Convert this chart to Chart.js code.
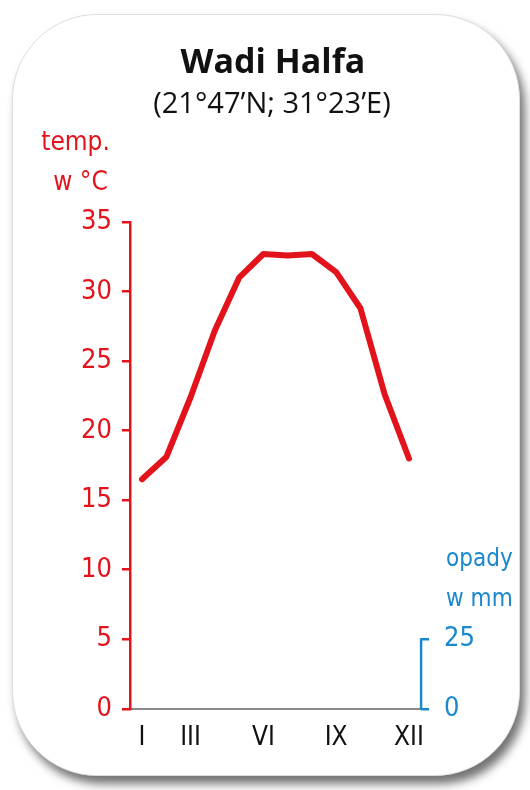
<!DOCTYPE html>
<html>
<head>
<meta charset="utf-8">
<script src="https://cdn.jsdelivr.net/npm/chart.js@4/dist/chart.umd.min.js"></script>
<style>
  html, body { margin: 0; padding: 0; background: #fff; }
  body { width: 530px; height: 790px; position: relative; overflow: hidden; }
  .karta {
    position: absolute; left: 12px; top: 14px; width: 506px; height: 760px;
    background: #fff; border: 1px solid #ddd; border-radius: 85px;
    box-shadow: 5px 8px 10px rgba(0, 0, 0, 0.55);
  }
  #wykres { position: absolute; left: 0; top: 0; }
</style>
</head>
<body>
<div class="karta"></div>
<canvas id="wykres" width="530" height="790"></canvas>
<script>
// Dane klimatyczne - Wadi Halfa
var miesiace = ['I', 'II', 'III', 'IV', 'V', 'VI', 'VII', 'VIII', 'IX', 'X', 'XI', 'XII'];
var pokazaneMiesiace = ['I', 'III', 'VI', 'IX', 'XII'];
var temperatura = [16.5, 18.1, 22.4, 27.2, 31.0, 32.7, 32.6, 32.7, 31.4, 28.8, 22.6, 18.0];
var opady = [0, 0, 0, 0, 0, 0, 0, 0, 0, 0, 0, 0];
var tickiTemp = [0, 5, 10, 15, 20, 25, 30, 35];
var tickiOpady = [0, 25];

var czerwony = '#e2131b';
var niebieski = '#1a88cc';
var waskiFont = '"DejaVu Sans Condensed", "Liberation Sans Narrow", sans-serif';

document.addEventListener('DOMContentLoaded', function () {
    // tytuł, opisy osi i nawias osi opadów
    var opisyOsi = {
        id: 'opisyOsi',
        afterDraw: function (chart) {
            var ctx = chart.ctx;
            var y = chart.scales.y;
            var y2 = chart.scales.y2;
            var gora = chart.chartArea.top;

            ctx.save();
            ctx.textAlign = 'center';
            ctx.textBaseline = 'middle';
            ctx.fillStyle = '#111';
            ctx.font = 'bold 34px "Open Sans", sans-serif';
            ctx.fillText('Wadi Halfa', 273, 63);
            ctx.font = '29px "Open Sans", sans-serif';
            ctx.fillText('(21°47’N; 31°23’E)', 272, 105);

            ctx.strokeStyle = niebieski;
            ctx.lineWidth = 2.5;
            ctx.beginPath();
            ctx.moveTo(y2.left, y2.getPixelForValue(0) + 1);
            ctx.lineTo(y2.left, y2.getPixelForValue(25) - 1);
            ctx.stroke();

            ctx.font = '26px ' + waskiFont;
            ctx.fillStyle = czerwony;
            ctx.textAlign = 'right';
            ctx.fillText('temp.', y.right - 20, gora - 79);
            ctx.fillText('w °C', y.right - 22, gora - 39);

            ctx.font = '24px ' + waskiFont;
            ctx.fillStyle = niebieski;
            ctx.textAlign = 'left';
            var g25 = y2.getPixelForValue(25);
            ctx.fillText('opady', y2.left + 25, g25 - 79);
            ctx.fillText('w mm', y2.left + 25, g25 - 39);
            ctx.restore();
        }
    };

    var ctx = document.getElementById('wykres').getContext('2d');
    var wykres = new Chart(ctx, {
        type: 'line',
        data: {
            labels: miesiace,
            datasets: [{
                type: 'line',
                label: 'temperatura',
                data: temperatura,
                borderColor: czerwony,
                borderWidth: 6,
                pointRadius: 0,
                tension: 0,
                borderJoinStyle: 'round',
                borderCapStyle: 'round',
                yAxisID: 'y'
            }, {
                type: 'bar',
                label: 'opady',
                data: opady,
                backgroundColor: niebieski,
                yAxisID: 'y2'
            }]
        },
        options: {
            responsive: false,
            animation: false,
            layout: { padding: { top: 222, left: 71, right: 40, bottom: 22 } },
            plugins: {
                legend: { display: false },
                tooltip: { enabled: false }
            },
            scales: {
                x: {
                    offset: true,
                    grid: { display: false, drawTicks: false },
                    border: { display: true, color: '#8a8a8a', width: 2 },
                    ticks: {
                        autoSkip: false,
                        maxRotation: 0,
                        padding: 14,
                        color: '#111',
                        font: { family: waskiFont, size: 26 },
                        callback: function (v, i) {
                            var m = miesiace[i];
                            return pokazaneMiesiace.indexOf(m) >= 0 ? m : '';
                        }
                    }
                },
                y: {
                    position: 'left',
                    min: 0,
                    max: 35,
                    afterBuildTicks: function (s) {
                        s.ticks = tickiTemp.map(function (v) { return { value: v }; });
                    },
                    grid: { drawOnChartArea: false, drawTicks: true, tickLength: 8, color: czerwony, lineWidth: 2.5 },
                    border: { display: true, color: czerwony, width: 2.5 },
                    ticks: {
                        padding: 10,
                        color: czerwony,
                        font: { family: waskiFont, size: 27 }
                    }
                },
                y2: {
                    position: 'right',
                    min: 0,
                    max: 175,
                    afterBuildTicks: function (s) {
                        s.ticks = tickiOpady.map(function (v) { return { value: v }; });
                    },
                    grid: { drawOnChartArea: false, drawTicks: true, tickLength: 8, color: niebieski, lineWidth: 2.5 },
                    border: { display: false },
                    ticks: {
                        padding: 15,
                        color: niebieski,
                        font: { family: waskiFont, size: 27 }
                    }
                }
            }
        },
        plugins: [opisyOsi]
    });
});
</script>
</body>
</html>
